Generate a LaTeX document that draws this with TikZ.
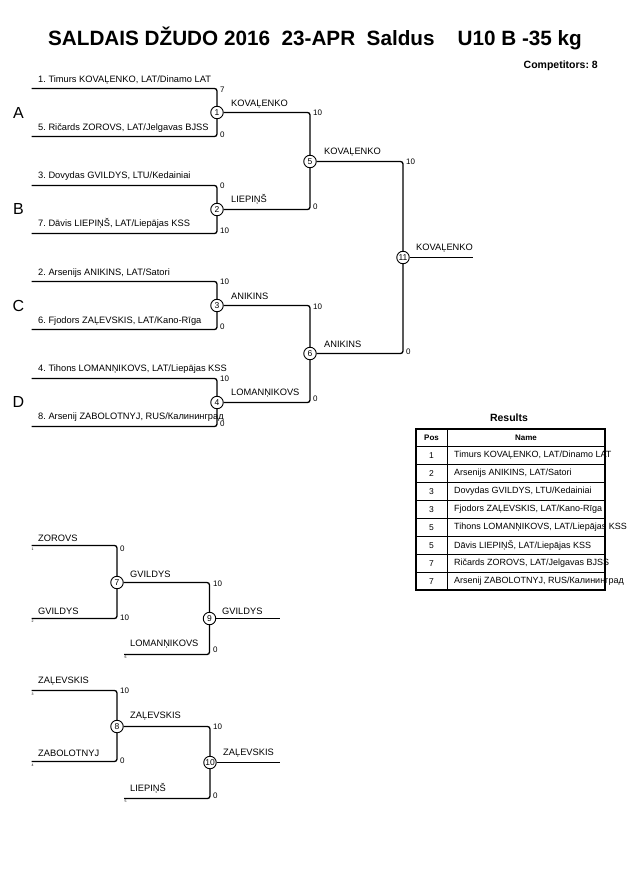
\documentclass[tikz,border=0pt]{standalone}
\usepackage{fontspec}
\setmainfont{Liberation Sans}
\frenchspacing
\begin{document}
\begin{tikzpicture}[x=1pt,y=-1pt,
  ln/.style={line width=1.3pt, rounded corners=2.5pt},
  mt/.style={circle, draw, line width=0.9pt, fill=white, minimum size=12.5pt, inner sep=0pt, font=\fontsize{8.5}{8.5}\selectfont},
  nm/.style={anchor=base west, inner sep=0pt, font=\fontsize{9.3}{9.3}\selectfont},
  sc/.style={anchor=west, inner sep=0pt, font=\fontsize{8}{8}\selectfont},
  pool/.style={anchor=center, inner sep=0pt, font=\fontsize{16}{16}\selectfont},
  tinyno/.style={anchor=center, inner sep=0pt, font=\fontsize{3.5}{3.5}\selectfont},
  cell/.style={anchor=center, inner sep=0pt, font=\fontsize{8.5}{8.5}\selectfont},
  hcell/.style={anchor=center, inner sep=0pt, font=\bfseries\fontsize{8}{8}\selectfont},
  tout/.style={line width=1.5pt},
  tin/.style={line width=0.8pt},
]
\useasboundingbox (0,0) rectangle (630,891);
\fill[white] (0,0) rectangle (630,891);

% title
\node[anchor=base, inner sep=0pt, font=\bfseries\fontsize{20.7}{20.7}\selectfont] (title) at (315,45.5) {SALDAIS DŽUDO 2016\ \ 23-APR\ \ Saldus\ \ \ \ U10 B -35 kg};
\node[anchor=base east, inner sep=0pt, font=\bfseries\fontsize{10.5}{10.5}\selectfont] (comp) at (598,68.5) {Competitors: 8};

% pools
\node[pool] (pA) at (18.5,112.5) {A};
\node[pool] (pB) at (18.5,209) {B};
\node[pool] (pC) at (18.5,305.5) {C};
\node[pool] (pD) at (18.5,402) {D};

% matches
\node[mt] (c1) at (217,112.5) {1};
\node[mt] (c2) at (217,209.5) {2};
\node[mt] (c3) at (217,305.5) {3};
\node[mt] (c4) at (217,402.5) {4};
\node[mt] (c5) at (310,161.5) {5};
\node[mt] (c6) at (310,353.5) {6};
\node[mt] (c11) at (403,257.5) {11};

\coordinate (s1) at (31.5,88.5);
\coordinate (s5) at (31.5,136.5);
\coordinate (s3) at (31.5,185.5);
\coordinate (s7) at (31.5,233.5);
\coordinate (s2) at (31.5,281.5);
\coordinate (s6) at (31.5,329.5);
\coordinate (s4) at (31.5,378.5);
\coordinate (s8) at (31.5,426.5);
\coordinate (f1) at (472.5,257.5);

\draw[ln] (s1) -| (c1);
\draw[ln] (s5) -| (c1);
\draw[ln] (s3) -| (c2);
\draw[ln] (s7) -| (c2);
\draw[ln] (s2) -| (c3);
\draw[ln] (s6) -| (c3);
\draw[ln] (s4) -| (c4);
\draw[ln] (s8) -| (c4);
\draw[ln] (c1) -| (c5);
\draw[ln] (c2) -| (c5);
\draw[ln] (c3) -| (c6);
\draw[ln] (c4) -| (c6);
\draw[ln] (c5) -| (c11);
\draw[ln] (c6) -| (c11);
\draw[ln] (c11) -- (f1);

% competitor names
\node[nm] (n1) at (38,82) {1. Timurs KOVAĻENKO, LAT/Dinamo LAT};
\node[nm] (n5) at (38,130) {5. Ričards ZOROVS, LAT/Jelgavas BJSS};
\node[nm] (n3) at (38,178.5) {3. Dovydas GVILDYS, LTU/Kedainiai};
\node[nm] (n7) at (38,226.5) {7. Dāvis LIEPIŅŠ, LAT/Liepājas KSS};
\node[nm] (n2) at (38,275) {2. Arsenijs ANIKINS, LAT/Satori};
\node[nm] (n6) at (38,323) {6. Fjodors ZAĻEVSKIS, LAT/Kano-Rīga};
\node[nm] (n4) at (38,371.5) {4. Tihons LOMANŅIKOVS, LAT/Liepājas KSS};
\node[nm] (n8) at (38,419.5) {8. Arsenij ZABOLOTNYJ, RUS/Калининград};

% scores
\node[sc] (k1a) at (220,89.5) {7};
\node[sc] (k1b) at (220,134.5) {0};
\node[sc] (k2a) at (220,186) {0};
\node[sc] (k2b) at (220,230.5) {10};
\node[sc] (k3a) at (220,282) {10};
\node[sc] (k3b) at (220,327) {0};
\node[sc] (k4a) at (220,378.5) {10};
\node[sc] (k4b) at (220,423.5) {0};
\node[sc] (k5a) at (313,113) {10};
\node[sc] (k5b) at (313,206.5) {0};
\node[sc] (k6a) at (313,306.5) {10};
\node[sc] (k6b) at (313,398.5) {0};
\node[sc] (k11a) at (406,161.5) {10};
\node[sc] (k11b) at (406,351.5) {0};

% winner labels
\node[nm] (w1) at (231,106) {KOVAĻENKO};
\node[nm] (w2) at (231,202.5) {LIEPIŅŠ};
\node[nm] (w3) at (231,299) {ANIKINS};
\node[nm] (w4) at (231,395.5) {LOMANŅIKOVS};
\node[nm] (w5) at (324,154.5) {KOVAĻENKO};
\node[nm] (w6) at (324,347.5) {ANIKINS};
\node[nm] (w11) at (416,250.5) {KOVAĻENKO};

% repechage 1
\node[mt] (c7) at (117,582.5) {7};
\node[mt] (c9) at (209.5,618.5) {9};
\coordinate (r1) at (31.5,545.5);
\coordinate (r2) at (31.5,618.5);
\coordinate (r3) at (124,654.5);
\coordinate (f2) at (280,618.5);
\draw[ln] (r1) -| (c7);
\draw[ln] (r2) -| (c7);
\draw[ln] (c7) -| (c9);
\draw[ln] (r3) -| (c9);
\draw[ln] (c9) -- (f2);
\node[nm] (rn1) at (38,541.5) {ZOROVS};
\node[nm] (rn2) at (38,614) {GVILDYS};
\node[nm] (rn3) at (130,646.5) {LOMANŅIKOVS};
\node[nm] (rw7) at (130,577.5) {GVILDYS};
\node[nm] (rw9) at (222,614) {GVILDYS};
\node[sc] (k7a) at (120,549) {0};
\node[sc] (k7b) at (120,617.5) {10};
\node[sc] (k9a) at (213,584) {10};
\node[sc] (k9b) at (213,649.5) {0};
\node[tinyno] (t1) at (32.5,549.5) {1};
\node[tinyno] (t2) at (32.5,621.5) {2};
\node[tinyno] (t6) at (125.5,657.5) {6};

% repechage 2
\node[mt] (c8) at (117,726.5) {8};
\node[mt] (c10) at (210,762.5) {10};
\coordinate (r4) at (31.5,690.5);
\coordinate (r5) at (31.5,761.5);
\coordinate (r6) at (124,798.5);
\coordinate (f3) at (280,762.5);
\draw[ln] (r4) -| (c8);
\draw[ln] (r5) -| (c8);
\draw[ln] (c8) -| (c10);
\draw[ln] (r6) -| (c10);
\draw[ln] (c10) -- (f3);
\node[nm] (rn4) at (38,683) {ZAĻEVSKIS};
\node[nm] (rn5) at (38,756.5) {ZABOLOTNYJ};
\node[nm] (rn6) at (130,791.5) {LIEPIŅŠ};
\node[nm] (rw8) at (130,718) {ZAĻEVSKIS};
\node[nm] (rw10) at (223,755) {ZAĻEVSKIS};
\node[sc] (k8a) at (120,691) {10};
\node[sc] (k8b) at (120,760.5) {0};
\node[sc] (k10a) at (213,727) {10};
\node[sc] (k10b) at (213,796) {0};
\node[tinyno] (t3) at (32.5,694) {3};
\node[tinyno] (t4) at (32.5,765) {4};
\node[tinyno] (t5) at (125.5,801.5) {5};

% results table
\node[anchor=center, inner sep=0pt, font=\bfseries\fontsize{10.5}{10.5}\selectfont] (res) at (509,418) {Results};
\draw[tin] (416,446.5) -- (605,446.5);
\foreach \k in {0,...,6} { \draw[tin] (416,464.5+18*\k) -- (605,464.5+18*\k); }
\draw[tin] (447.5,429) -- (447.5,590);
\draw[tout] (416,429) rectangle (605,590);
\node[hcell] (hp) at (431.5,437.5) {Pos};
\node[hcell] (hn) at (526,437.5) {Name};
\foreach \p/\n [count=\i from 0] in {1/{Timurs KOVAĻENKO, LAT/Dinamo LAT},2/{Arsenijs ANIKINS, LAT/Satori},3/{Dovydas GVILDYS, LTU/Kedainiai},3/{Fjodors ZAĻEVSKIS, LAT/Kano-Rīga},5/{Tihons LOMANŅIKOVS, LAT/Liepājas KSS},5/{Dāvis LIEPIŅŠ, LAT/Liepājas KSS},7/{Ričards ZOROVS, LAT/Jelgavas BJSS},7/{Arsenij ZABOLOTNYJ, RUS/Калининград}} {
  \node[cell] (rp\i) at (431.5,455.5+18*\i) {\p};
  \node[anchor=west, inner sep=0pt, font=\fontsize{9}{9}\selectfont] (rn\i x) at (454,455.5+18*\i) {\n};
}
\end{tikzpicture}
\end{document}
